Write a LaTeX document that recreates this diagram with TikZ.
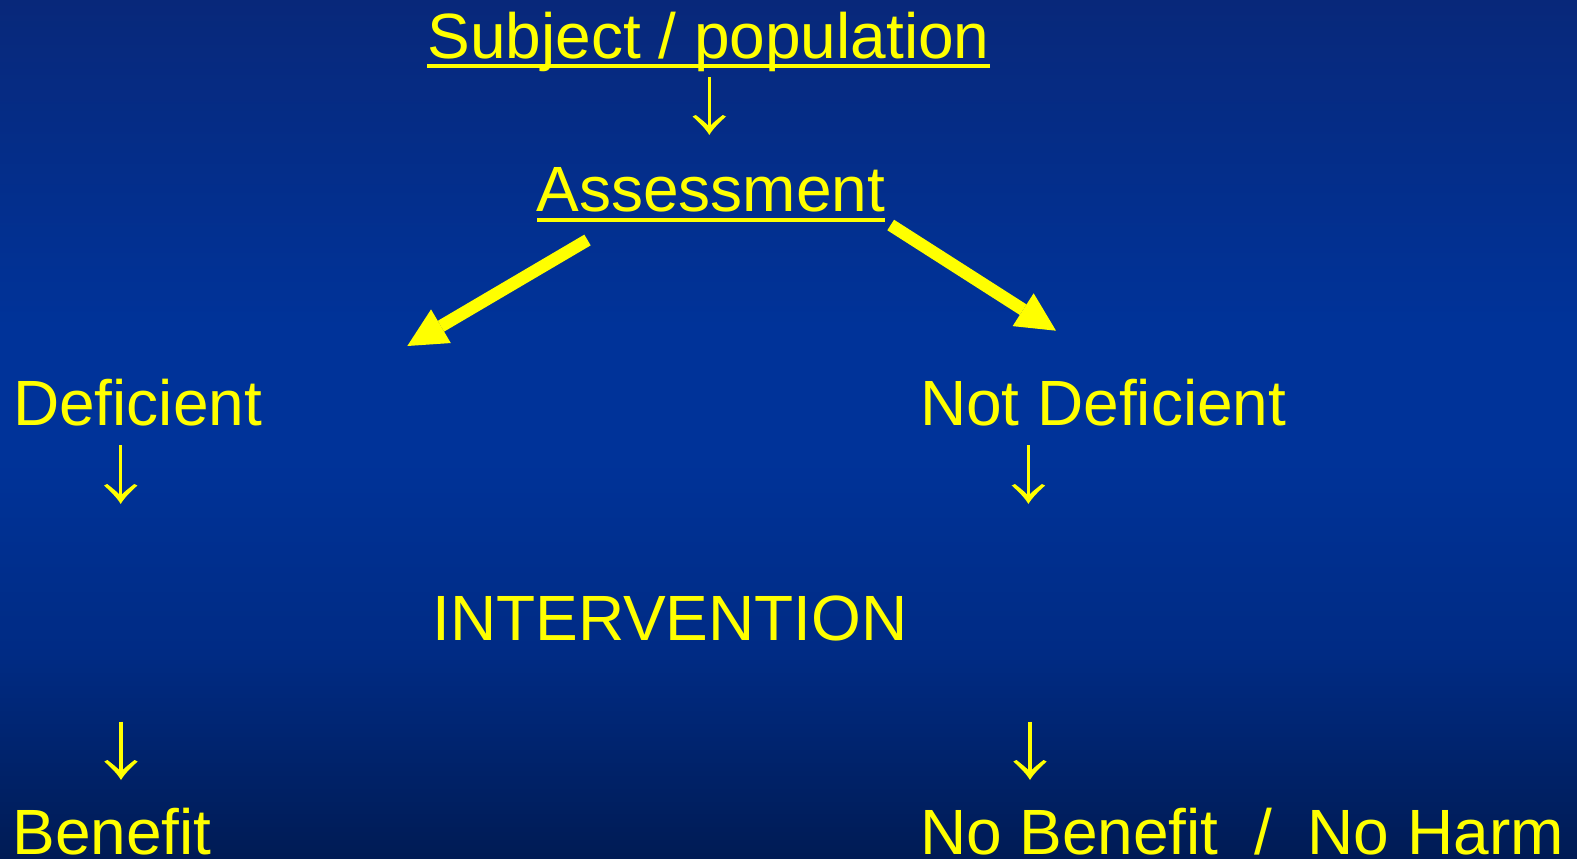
\documentclass[tikz,border=0pt]{standalone}
\usepackage{fontspec}
\setmainfont{Liberation Sans}
\usetikzlibrary{arrows.meta}
\definecolor{bgT}{RGB}{8,40,122}
\definecolor{bgM}{RGB}{0,51,153}
\definecolor{bgL}{RGB}{0,43,132}
\definecolor{bgB}{RGB}{0,27,84}
\definecolor{hl}{RGB}{255,255,0}
\pgfdeclareverticalshading{bgshade}{100bp}{color(0bp)=(bgB); color(25bp)=(bgB); color(37bp)=(bgL); color(48.5bp)=(bgM); color(56bp)=(bgM); color(75bp)=(bgT); color(100bp)=(bgT)}
\pgfdeclarearrow{
  name = ArialDown,
  setup code = {
    \pgfarrowssettipend{0pt}
    \pgfarrowssetlineend{-9pt}
    \pgfarrowssetvisualbackend{-20pt}
    \pgfarrowssetbackend{-20pt}
    \pgfarrowshullpoint{0pt}{0pt}
    \pgfarrowshullpoint{-20pt}{16.5pt}
    \pgfarrowshullpoint{-20pt}{-16.5pt}
  },
  drawing code = {
    \pgfpathmoveto{\pgfqpoint{0pt}{0pt}}
    \pgfpathcurveto{\pgfqpoint{-6pt}{3.5pt}}{\pgfqpoint{-12pt}{9.5pt}}{\pgfqpoint{-18.5pt}{16.7pt}}
    \pgfpathlineto{\pgfqpoint{-20pt}{13.5pt}}
    \pgfpathcurveto{\pgfqpoint{-16pt}{8.5pt}}{\pgfqpoint{-12.5pt}{4pt}}{\pgfqpoint{-10pt}{1.7pt}}
    \pgfpathlineto{\pgfqpoint{-10pt}{-1.7pt}}
    \pgfpathcurveto{\pgfqpoint{-12.5pt}{-4pt}}{\pgfqpoint{-16pt}{-8.5pt}}{\pgfqpoint{-20pt}{-13.5pt}}
    \pgfpathlineto{\pgfqpoint{-18.5pt}{-16.7pt}}
    \pgfpathcurveto{\pgfqpoint{-12pt}{-9.5pt}}{\pgfqpoint{-6pt}{-3.5pt}}{\pgfqpoint{0pt}{0pt}}
    \pgfpathclose
    \pgfusepathqfill
  }
}
\begin{document}
\begin{tikzpicture}[x=1pt,y=-1pt,
  lbl/.style={anchor=base west, inner sep=0pt, outer sep=0pt, text=hl,
              font=\fontsize{64}{70}\selectfont},
  uline/.style={fill=hl, draw=none},
  thinarrow/.style={draw=hl, fill=hl, line width=3.3pt, -{ArialDown}},
  thickarrow/.style={draw=hl, fill=hl, line width=12.5pt,
              -{Triangle[length=39pt,width=39pt,line width=0pt]}}]
\useasboundingbox (0,0) rectangle (1577,859);
\shade[shading=bgshade] (0,0) rectangle (1577,859);

% text nodes
\node[lbl] (subj)    at (427.4,58.5)  {Subject / population};
\node[lbl] (assess)  at (536.5,211.7) {Assessment};
\node[lbl] (def)     at (13,425.7)    {Deficient};
\node[lbl] (notdef)  at (920,425.7)   {Not Deficient};
\node[lbl] (interv)  at (432.3,640.3) {INTERVENTION};
\node[lbl] (benefit) at (12.5,854.3)  {Benefit};
\node[lbl] (nobh)    at (920,854.3)   {No Benefit\ \ /\ \ No Harm};

% underlines
\fill[uline] ([yshift=-5.8pt]subj.base west) rectangle ([yshift=-9.8pt]subj.base east);
\fill[uline] ([yshift=-5.8pt]assess.base west) rectangle ([yshift=-9.8pt]assess.base east);

% connector end points
\coordinate (a0s) at (709.3,77.3);  \coordinate (a0e) at (709.3,135);
\coordinate (a1s) at (120.7,445);   \coordinate (a1e) at (120.7,504);
\coordinate (a2s) at (1028.4,445);  \coordinate (a2e) at (1028.4,504);
\coordinate (a3s) at (121,721.7);   \coordinate (a3e) at (121,780);
\coordinate (a4s) at (1030,721.7);  \coordinate (a4e) at (1030,780);
\coordinate (tls) at (587.5,240);   \coordinate (tle) at (407.3,346);
\coordinate (trs) at (890.7,225);   \coordinate (tre) at (1056,330.7);

% thin arrows
\draw[thinarrow] (a0s) -- (a0e);
\draw[thinarrow] (a1s) -- (a1e);
\draw[thinarrow] (a2s) -- (a2e);
\draw[thinarrow] (a3s) -- (a3e);
\draw[thinarrow] (a4s) -- (a4e);

% thick arrows
\draw[thickarrow] (tls) -- (tle);
\draw[thickarrow] (trs) -- (tre);
\end{tikzpicture}
\end{document}
